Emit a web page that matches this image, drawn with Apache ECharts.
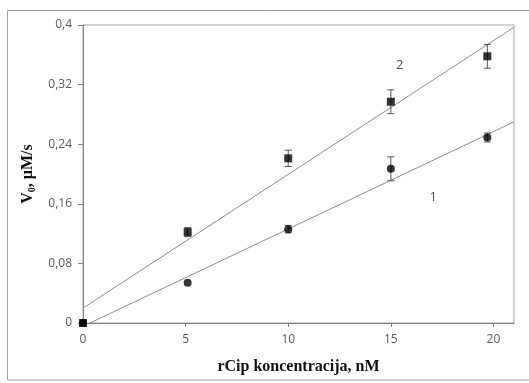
<!DOCTYPE html>
<html>
<head>
<meta charset="utf-8">
<script src="https://cdn.jsdelivr.net/npm/echarts@6/dist/echarts.min.js"></script>
<style>html,body{margin:0;padding:0;background:#fff}#c{width:529px;height:383px}</style>
</head>
<body>
<div id="c"></div>
<script>
// Series 1 (circles)
var x1 = [0, 5.1, 10, 15, 19.7];
var y1 = [0, 0.054, 0.126, 0.207, 0.249];
var e1 = [0, 0, 0.005, 0.016, 0.006];
// Series 2 (squares)
var x2 = [0, 5.1, 10, 15, 19.7];
var y2 = [0, 0.122, 0.221, 0.297, 0.358];
var e2 = [0, 0.006, 0.011, 0.016, 0.016];
// Trend lines
var trend1X = [0.34, 21];
var trend1Y = [0, 0.270];
var trend2X = [0, 21];
var trend2Y = [0.02, 0.397];
// Annotation labels
var annotX = [17.07, 15.43];
var annotY = [0.169, 0.346];
var annotText = ['1', '2'];
// Axis ticks
var xTicks = [0, 5, 10, 15, 20];
var yTicks = [0, 0.08, 0.16, 0.24, 0.32, 0.4];

function pairs(xs, ys) { return xs.map(function (x, i) { return [x, ys[i]]; }); }
function errData(xs, ys, es) { return xs.map(function (x, i) { return [x, ys[i] - es[i], ys[i] + es[i]]; }).filter(function (d, i) { return es[i] > 0; }); }

function errRender(params, api) {
  var x = api.value(0);
  var lo = api.coord([x, api.value(1)]);
  var hi = api.coord([x, api.value(2)]);
  var w = 3.5;
  var st = { stroke: '#555', lineWidth: 1 };
  return {
    type: 'group',
    children: [
      { type: 'line', shape: { x1: lo[0], y1: lo[1], x2: hi[0], y2: hi[1] }, style: st },
      { type: 'line', shape: { x1: lo[0] - w, y1: lo[1], x2: lo[0] + w, y2: lo[1] }, style: st },
      { type: 'line', shape: { x1: hi[0] - w, y1: hi[1], x2: hi[0] + w, y2: hi[1] }, style: st }
    ]
  };
}

var chart = echarts.init(document.getElementById('c'));
var labelFont = { color: '#595959', fontFamily: 'Open Sans', fontSize: 12 };
chart.setOption({
  animation: false,
  graphic: [{
    type: 'rect', silent: true, z: -1,
    shape: { x: 7.5, y: 10.5, width: 540, height: 369.5 },
    style: { fill: 'none', stroke: '#a0a0a0', lineWidth: 1 }
  }],
  grid: { left: 83, top: 25, right: 15, bottom: 60, show: true, borderColor: '#a6a6a6', borderWidth: 1 },
  xAxis: {
    type: 'value', min: 0, max: 21, interval: 5,
    splitLine: { show: false },
    axisLine: { onZero: false, lineStyle: { color: '#808080' } },
    axisTick: { show: true, length: 4, lineStyle: { color: '#808080' },
      customValues: xTicks },
    axisLabel: Object.assign({ margin: 11, customValues: xTicks,
      formatter: function (v) { return xTicks.indexOf(v) >= 0 ? String(v) : ''; } }, labelFont),
    name: 'rCip koncentracija, nM', nameLocation: 'middle', nameGap: 36,
    nameTextStyle: { fontFamily: 'Liberation Serif', fontWeight: 'bold', fontSize: 16, color: '#111' }
  },
  yAxis: {
    type: 'value', min: 0, max: 0.4, interval: 0.08,
    splitLine: { show: false },
    axisLine: { show: true, lineStyle: { color: '#808080' } },
    axisTick: { show: true, length: 5, lineStyle: { color: '#808080' } },
    axisLabel: Object.assign({ margin: 11,
      formatter: function (v) { return String(+v.toFixed(2)).replace('.', ','); } }, labelFont),
    name: '{a|V}{s|0}{a|, μM/s}', nameLocation: 'middle', nameGap: 46, nameRotate: 90,
    nameTextStyle: {
      rich: {
        a: { fontFamily: 'Liberation Serif', fontWeight: 'bold', fontSize: 16, color: '#111' },
        s: { fontFamily: 'Liberation Serif', fontWeight: 'bold', fontSize: 10, color: '#111', padding: [8, 0, 0, 0] }
      }
    }
  },
  series: [
    { type: 'line', data: pairs(trend1X, trend1Y), symbol: 'none', lineStyle: { color: '#8c8c8c', width: 1 }, silent: true, z: 1 },
    { type: 'line', data: pairs(trend2X, trend2Y), symbol: 'none', lineStyle: { color: '#8c8c8c', width: 1 }, silent: true, z: 1 },
    { type: 'custom', data: errData(x1, y1, e1), renderItem: errRender, z: 2, clip: false },
    { type: 'custom', data: errData(x2, y2, e2), renderItem: errRender, z: 2, clip: false },
    { type: 'scatter', data: pairs(x1, y1), symbol: 'circle', symbolSize: 8, itemStyle: { color: '#000' }, z: 3, clip: false },
    { type: 'scatter', data: pairs(x2, y2), symbol: 'rect', symbolSize: 8, itemStyle: { color: '#000' }, z: 4, clip: false },
    { type: 'scatter', data: pairs(annotX, annotY), symbolSize: 0, silent: true, z: 5,
      label: { show: true, position: 'inside', color: '#222', fontFamily: 'Open Sans', fontSize: 13,
        formatter: function (p) { return annotText[p.dataIndex]; } } }
  ]
});
</script>
</body>
</html>
